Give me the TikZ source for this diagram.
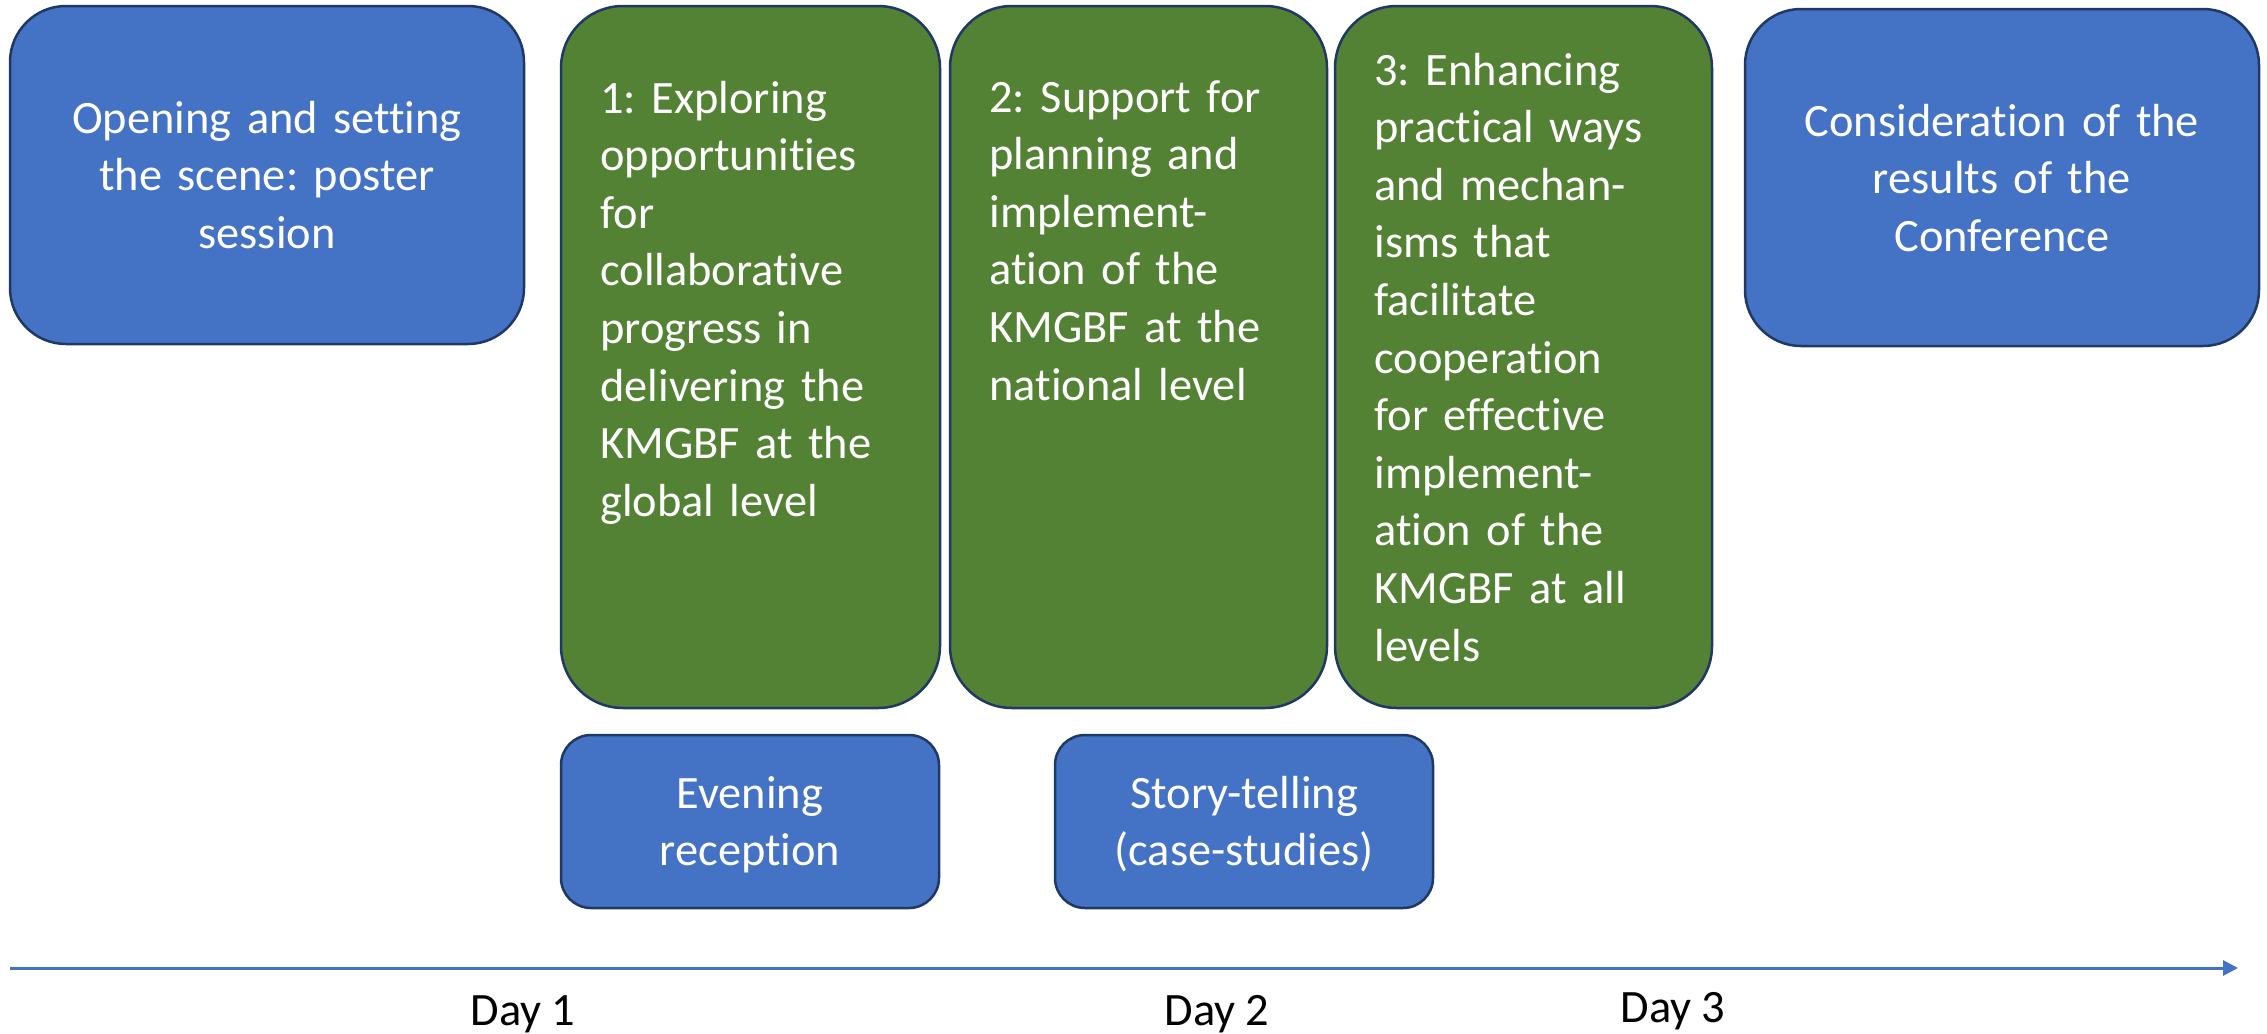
\documentclass[tikz,border=0pt]{standalone}
\usepackage{fontspec}
\setmainfont{Carlito}[Ligatures=NoCommon]
\frenchspacing
\usetikzlibrary{arrows.meta}
\definecolor{boxblue}{HTML}{4472C4}
\definecolor{boxgreen}{HTML}{548235}
\definecolor{boxline}{HTML}{1F3864}
\definecolor{axisblue}{HTML}{4472C4}
\tikzset{
  box/.style={draw=boxline, line width=1.25pt, outer sep=0pt, inner sep=0pt, anchor=north west},
  bluebox/.style={box, fill=boxblue},
  greenbox/.style={box, fill=boxgreen},
  boxtext/.style={text=white, inner sep=0pt, font=\fontsize{23.2}{28.8}\selectfont},
  daytext/.style={text=black, inner sep=0pt, anchor=base, font=\fontsize{23.2}{28.8}\selectfont},
  timeline/.style={draw=axisblue, line width=1.5pt, -{Triangle[length=7.5pt,width=7.5pt]}}
}
\begin{document}
\begin{tikzpicture}[x=0.5pt,y=-0.5pt]
\useasboundingbox (0,0) rectangle (2267,1034);
% boxes
\node[bluebox, minimum width=257pt, minimum height=169pt, rounded corners=28pt] (open) at (10,6) {};
\node[greenbox, minimum width=189.5pt, minimum height=351pt, rounded corners=31pt] (s1) at (561,6) {};
\node[greenbox, minimum width=188.5pt, minimum height=351pt, rounded corners=31pt] (s2) at (950,6) {};
\node[greenbox, minimum width=188.5pt, minimum height=351pt, rounded corners=31pt] (s3) at (1335,6) {};
\node[bluebox, minimum width=257pt, minimum height=168.5pt, rounded corners=28pt] (concl) at (1745,9) {};
\node[bluebox, minimum width=189pt, minimum height=86.5pt, rounded corners=15pt] (even) at (561,735) {};
\node[bluebox, minimum width=189pt, minimum height=86.5pt, rounded corners=15pt] (story) at (1055,735) {};
% texts
\node[boxtext, anchor=base, text width=240pt, align=center] (opentxt) at (267,133)
  {Opening and setting\\the scene: poster\\session};
\node[boxtext, anchor=base west, text width=180pt, align=left] (s1txt) at (600,113)
  {1: Exploring\\opportunities\\for\\collaborative\\progress in\\delivering the\\KMGBF at the\\global level};
\node[boxtext, anchor=base west, text width=180pt, align=left] (s2txt) at (989,112)
  {2: Support for\\planning and\\implement-\\ation of the\\KMGBF at the\\national level};
\node[boxtext, anchor=base west, text width=180pt, align=left] (s3txt) at (1374,85)
  {3: Enhancing\\practical ways\\and mechan-\\isms that\\facilitate\\cooperation\\for effective\\implement-\\ation of the\\KMGBF at all\\levels};
\node[boxtext, anchor=base, text width=240pt, align=center] (concltxt) at (2002,136)
  {Consideration of the\\results of the\\Conference};
\node[boxtext, anchor=base, text width=180pt, align=center] (eventxt) at (750,808)
  {Evening\\reception};
\node[boxtext, anchor=base, text width=180pt, align=center] (storytxt) at (1244,808)
  {Story-telling\\(case-studies)};
% timeline
\coordinate (tstart) at (10,968);
\coordinate (tend) at (2238,968);
\draw[timeline] (tstart) -- (tend);
\node[daytext] (day1) at (523,1025) {Day 1};
\node[daytext] (day2) at (1217,1025) {Day 2};
\node[daytext] (day3) at (1673,1022) {Day 3};
\end{tikzpicture}
\end{document}
